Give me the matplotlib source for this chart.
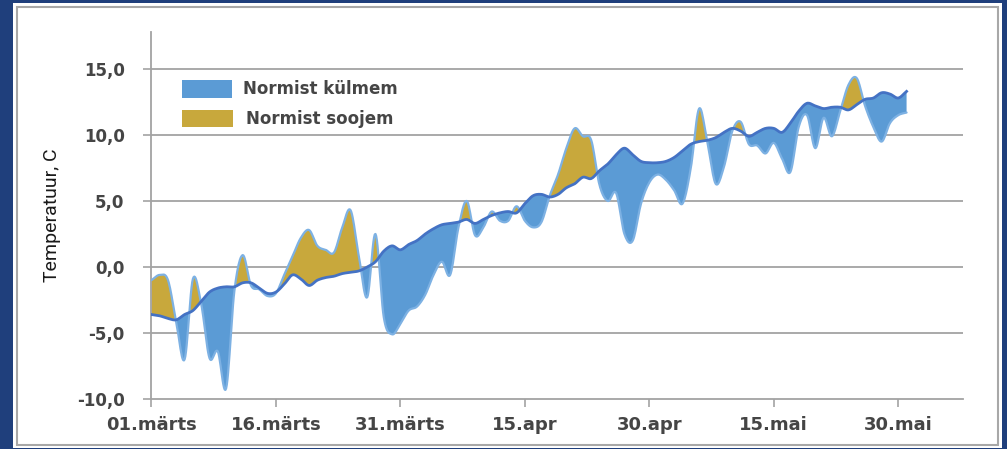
import numpy as np
import matplotlib
matplotlib.use("Agg")
import matplotlib.pyplot as plt
from matplotlib.patches import Rectangle

# ---- data ----
day_index = list(range(92))  # 0 = 01.märts ... 91 = 31.mai
norm_temp = [-3.6, -3.7, -3.9, -4.0, -3.6, -3.3, -2.6, -1.9, -1.6, -1.5,
             -1.5, -1.2, -1.2, -1.6, -2.0, -1.9, -1.3, -0.6, -0.9, -1.4,
             -1.0, -0.8, -0.7, -0.5, -0.4, -0.3, 0.0, 0.4, 1.2, 1.6,
             1.3, 1.7, 2.0, 2.5, 2.9, 3.2, 3.3, 3.4, 3.6, 3.3,
             3.6, 3.9, 4.1, 4.2, 4.1, 4.8, 5.4, 5.5, 5.3, 5.5,
             6.0, 6.3, 6.8, 6.7, 7.3, 7.8, 8.5, 9.0, 8.5, 8.0,
             7.9, 7.9, 8.0, 8.3, 8.8, 9.3, 9.5, 9.6, 9.8, 10.2,
             10.5, 10.3, 9.9, 10.2, 10.5, 10.5, 10.2, 10.9, 11.8, 12.4,
             12.2, 12.0, 12.1, 12.1, 11.9, 12.3, 12.7, 12.8, 13.2, 13.1,
             12.8, 13.3]
actual_temp = [-1.0, -0.6, -1.0, -4.2, -7.0, -0.9, -2.8, -6.9, -6.4, -9.2,
               -1.8, 0.9, -1.4, -1.7, -2.2, -2.0, -0.6, 0.8, 2.2, 2.8,
               1.6, 1.3, 1.1, 3.0, 4.3, 0.8, -2.3, 2.5, -3.8, -5.1,
               -4.3, -3.3, -3.0, -2.1, -0.6, 0.4, -0.6, 3.0, 5.0, 2.4,
               3.0, 4.2, 3.5, 3.5, 4.6, 3.5, 3.0, 3.4, 5.4, 7.0,
               9.0, 10.5, 9.9, 9.6, 6.2, 5.0, 5.6, 2.5, 2.0, 4.8,
               6.4, 7.0, 6.6, 5.8, 4.8, 7.5, 12.0, 9.4, 6.3, 7.6,
               10.3, 11.0, 9.3, 9.2, 8.6, 9.4, 8.2, 7.2, 10.6, 11.5,
               9.0, 11.3, 9.9, 11.8, 13.8, 14.3, 12.2, 10.6, 9.5, 10.9,
               11.5, 11.7]
x_tick_pos = [0, 15, 30, 45, 60, 75, 90]
x_tick_labels = ["01.märts", "16.märts", "31.märts", "15.apr", "30.apr", "15.mai", "30.mai"]
y_ticks = [-10, -5, 0, 5, 10, 15]
y_tick_labels = ["-10,0", "-5,0", "0,0", "5,0", "10,0", "15,0"]
legend_labels = ["Normist külmem", "Normist soojem"]

BLUE = "#5b9bd5"
BLUE_EDGE = "#7db1e3"
GOLD = "#c8a83c"
NORM_LINE = "#4472c4"
NAVY = "#1f3f7c"
GRID = "#a3a3a3"
TEXT = "#454545"


def smooth(x, y, n=12):
    """Catmull-Rom spline through the points (like a smoothed Excel line)."""
    x = np.asarray(x, float)
    y = np.asarray(y, float)
    px = np.concatenate([[2 * x[0] - x[1]], x, [2 * x[-1] - x[-2]]])
    py = np.concatenate([[2 * y[0] - y[1]], y, [2 * y[-1] - y[-2]]])
    xs, ys = [], []
    t = np.linspace(0, 1, n, endpoint=False)
    for i in range(1, len(px) - 2):
        p0, p1, p2, p3 = py[i - 1], py[i], py[i + 1], py[i + 2]
        yy = 0.5 * ((2 * p1) + (-p0 + p2) * t + (2 * p0 - 5 * p1 + 4 * p2 - p3) * t ** 2
                    + (-p0 + 3 * p1 - 3 * p2 + p3) * t ** 3)
        xx = px[i] + (px[i + 1] - px[i]) * t
        xs.append(xx)
        ys.append(yy)
    xs.append([x[-1]])
    ys.append([y[-1]])
    return np.concatenate(xs), np.concatenate(ys)


W, H = 1007, 449
fig = plt.figure(figsize=(W / 100, H / 100), dpi=100, facecolor=NAVY)

# white panel with grey border
fig.add_artist(Rectangle((13 / W, 1 - 448 / H), (1002 - 13) / W, (448 - 3) / H,
                         transform=fig.transFigure, facecolor="white", edgecolor="none", zorder=0))
fig.add_artist(Rectangle((17 / W, 1 - 445 / H), (998 - 17) / W, (445 - 7) / H,
                         transform=fig.transFigure, facecolor="white", edgecolor="#a8a8a8",
                         linewidth=1.5, zorder=0))

ax = fig.add_axes([151 / W, 1 - 399 / H, (963 - 151) / W, (399 - 32) / H])
ax.set_facecolor("none")

xs, ns = smooth(day_index, norm_temp)
_, acts = smooth(day_index, actual_temp)

ax.fill_between(xs, ns, acts, where=acts <= ns, interpolate=True, color=BLUE, linewidth=0, zorder=2)
ax.fill_between(xs, ns, acts, where=acts >= ns, interpolate=True, color=GOLD, linewidth=0, zorder=2)
ax.plot(xs, acts, color=BLUE_EDGE, linewidth=1.6, zorder=3, solid_capstyle="round")
ax.plot(xs, ns, color=NORM_LINE, linewidth=2.0, zorder=4)

ax.set_xlim(-0.05, 97.8)
ax.set_ylim(-10, 17.8)
ax.set_yticks(y_ticks)
ax.set_yticklabels(y_tick_labels)
ax.set_xticks(x_tick_pos)
ax.set_xticklabels(x_tick_labels)

for yv in y_ticks[1:]:
    ax.axhline(yv, color=GRID, linewidth=1.3, zorder=1)

for s in ["top", "right"]:
    ax.spines[s].set_visible(False)
for s in ["left", "bottom"]:
    ax.spines[s].set_color(GRID)
    ax.spines[s].set_linewidth(1.3)

ax.tick_params(axis="both", colors=GRID, length=6, width=1.2)
ax.tick_params(axis="y", pad=13)
ax.tick_params(axis="x", pad=6)
for lbl in ax.get_yticklabels():
    lbl.set_color(TEXT)
    lbl.set_fontsize(12)
    lbl.set_fontfamily("DejaVu Sans")
    lbl.set_fontweight("bold")
for lbl in ax.get_xticklabels():
    lbl.set_color(TEXT)
    lbl.set_fontsize(13)
    lbl.set_fontfamily("DejaVu Sans")
    lbl.set_fontweight("bold")

fig.text(52 / W, 1 - 215 / H, "Temperatuur, C", rotation=90, ha="center", va="center",
         fontsize=14, color="#1a1a1a", family=["Roboto", "DejaVu Sans"])

# legend (drawn by hand)
fig.add_artist(Rectangle((182 / W, 1 - 98 / H), 50 / W, 18 / H, transform=fig.transFigure,
                         facecolor=BLUE, edgecolor="none"))
fig.add_artist(Rectangle((182 / W, 1 - 127 / H), 51 / W, 17 / H, transform=fig.transFigure,
                         facecolor=GOLD, edgecolor="none"))
fig.text(243 / W, 1 - 89 / H, legend_labels[0], ha="left", va="center", fontsize=12,
         color=TEXT, family="DejaVu Sans", fontweight="bold")
fig.text(246 / W, 1 - 119 / H, legend_labels[1], ha="left", va="center", fontsize=12,
         color=TEXT, family="DejaVu Sans", fontweight="bold")

fig.savefig("out.png", dpi=100, facecolor=NAVY)
